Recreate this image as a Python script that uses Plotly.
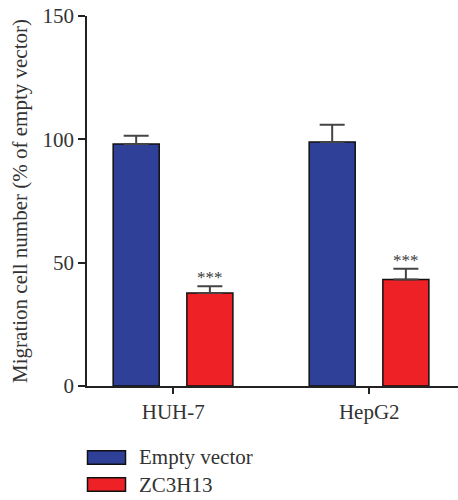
import plotly.graph_objects as go

# ---- data ----
categories = ["HUH-7", "HepG2"]
series_names = ["Empty vector", "ZC3H13"]
empty_vector = [98.1, 98.9]
empty_vector_err = [3.4, 7.0]
zc3h13 = [37.7, 43.2]
zc3h13_err = [2.7, 4.3]
significance = ["***", "***"]
y_ticks = [0, 50, 100, 150]

BLUE = "#2f4098"
RED = "#ee2226"
FONT = "Liberation Serif"
TXT = "#333333"

W, H = 458, 500
L, R, T, B = 87, 0, 16, 114
PW, PH = W - L - R, H - T - B

fig = go.Figure()
bar_w = 0.235
fig.add_trace(go.Bar(
    x=categories, y=empty_vector, name=series_names[0],
    width=bar_w, offset=-0.3065,
    marker=dict(color=BLUE, line=dict(color="#111111", width=1.5)),
    error_y=dict(type="data", array=empty_vector_err, arrayminus=[0, 0],
                 color="#444444", thickness=2, width=12.5),
    showlegend=False,
))
fig.add_trace(go.Bar(
    x=categories, y=zc3h13, name=series_names[1],
    width=bar_w, offset=0.0695,
    marker=dict(color=RED, line=dict(color="#111111", width=1.5)),
    error_y=dict(type="data", array=zc3h13_err, arrayminus=[0, 0],
                 color="#444444", thickness=2, width=12.5),
    showlegend=False,
))

# significance stars
for i, (v, e, s) in enumerate(zip(zc3h13, zc3h13_err, significance)):
    fig.add_annotation(x=i + 0.187, y=v + e, text=s, showarrow=False,
                       yanchor="bottom", yshift=-3,
                       font=dict(family=FONT, size=17, color="#3a3a3a"))

# legend drawn as shapes + text
def px2paper_x(px):
    return (px - L) / PW

def px2paper_y(py):
    return (H - B - py) / PH

legend_rows = [(series_names[0], BLUE, 450.7), (series_names[1], RED, 477.7)]
for name, col, ytop in legend_rows:
    fig.add_shape(type="rect", xref="paper", yref="paper",
                  x0=px2paper_x(87.5), x1=px2paper_x(125.5),
                  y0=px2paper_y(ytop), y1=px2paper_y(ytop + 13.6),
                  fillcolor=col, line=dict(color="#111111", width=1.5))
    fig.add_annotation(xref="paper", yref="paper", x=px2paper_x(137),
                       y=px2paper_y(ytop + 6.8), text=name, showarrow=False,
                       xanchor="left", yanchor="middle",
                       font=dict(family=FONT, size=21, color=TXT))

fig.update_layout(
    width=W, height=H,
    margin=dict(l=L, r=R, t=T, b=B, autoexpand=False),
    plot_bgcolor="white", paper_bgcolor="white",
    barmode="overlay",
    font=dict(family=FONT, size=21, color=TXT),
    xaxis=dict(
        type="category", range=[-0.44, 1.453], automargin=False,
        showline=True, linecolor="#222222", linewidth=1.5,
        ticks="outside", ticklen=6, tickwidth=1.5, tickcolor="#222222",
        showgrid=False, zeroline=False,
        tickfont=dict(family=FONT, size=21, color=TXT),
    ),
    yaxis=dict(
        range=[0, 150], tickvals=y_ticks, automargin=False,
        showline=True, linecolor="#222222", linewidth=1.5,
        ticks="outside", ticklen=7, tickwidth=1.5, tickcolor="#222222",
        showgrid=False, zeroline=False,
        tickfont=dict(family=FONT, size=21, color=TXT),
        title=dict(text="Migration cell number (% of empty vector)",
                   font=dict(family=FONT, size=21, color=TXT), standoff=9),
    ),
)

fig.write_html("out.html", config={"displayModeBar": False},
               post_script="document.body.style.margin='0';document.body.style.overflow='hidden';")
